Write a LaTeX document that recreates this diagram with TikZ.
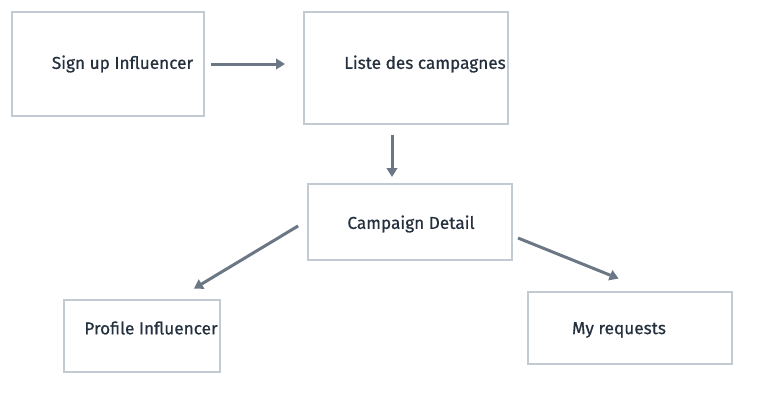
\documentclass[tikz,border=0pt]{standalone}
\usepackage{fontspec}
\setmainfont{Fira Sans}[FakeBold=0.6]
\usetikzlibrary{arrows.meta,calc,positioning}
\definecolor{boxgray}{HTML}{C2CAD3}
\definecolor{arrowgray}{HTML}{6B7785}
\definecolor{textdark}{HTML}{24303D}

\begin{document}
\begin{tikzpicture}[x=1pt, y=-1pt, >={Triangle[length=9pt,width=10.5pt]},
    box/.style={draw=boxgray, line width=1.5pt, fill=white, outer sep=0pt, inner sep=0pt},
    txt/.style={text=textdark, font=\fontsize{17.2}{20}\selectfont},
    flow/.style={->, draw=arrowgray, line width=3pt}]

    \useasboundingbox (0,0) rectangle (781,402);

    \node[box, minimum width=192, minimum height=104,
          label={[txt, xshift=14.5]center:Sign up Influencer}] (signup) at (108,64) {};
    \node[box, minimum width=204, minimum height=112,
          label={[txt, xshift=19, yshift=4]center:Liste des campagnes}] (liste) at (406,68) {};
    \node[box, minimum width=204, minimum height=76,
          label={[txt, xshift=1, yshift=-2]center:Campaign Detail}] (detail) at (410,222) {};
    \node[box, minimum width=156, minimum height=72,
          label={[txt, xshift=9, yshift=8]center:Profile Influencer}] (profile) at (142,336) {};
    \node[box, minimum width=204, minimum height=72,
          label={[txt, xshift=-11, yshift=-2]center:My requests}] (requests) at (630,328) {};

    \draw[flow, shorten <=7pt, shorten >=19pt] (signup.east) -- (signup.east -| liste.west);
    \draw[flow, shorten <=11pt, shorten >=7pt] ($(liste.south)+(-14,0)$) -- ($(detail.north)+(-18,0)$);
    \draw[flow, shorten <=11.5pt, shorten >=22pt] ($(detail.west)+(0,-2)$) -- ($(profile.north)+(33,0)$);
    \draw[flow, shorten <=6.5pt, shorten >=36pt] ($(detail.east)+(0,13.6)$) -- ($(requests.north)+(22,0)$);

\end{tikzpicture}
\end{document}
